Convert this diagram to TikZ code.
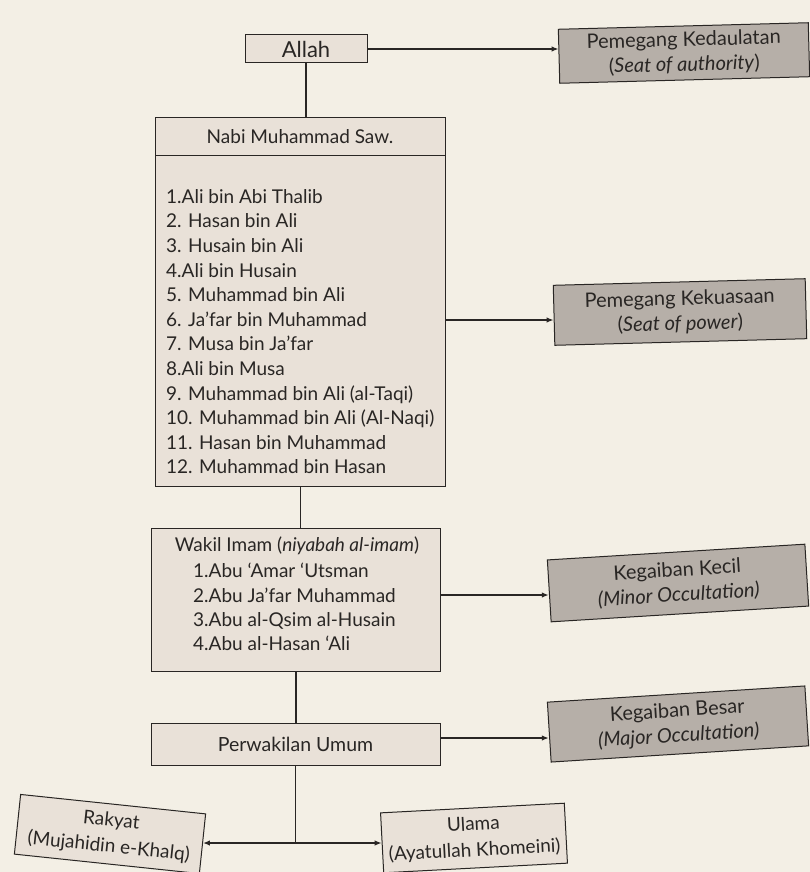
\documentclass[tikz,border=0pt]{standalone}
\usepackage{fontspec}
\setmainfont{Lato}
\usetikzlibrary{arrows.meta}
\definecolor{pagebg}{HTML}{F3EFE5}
\definecolor{lightfill}{HTML}{E9E1D8}
\definecolor{grayfill}{HTML}{B6AFA8}
\definecolor{ink}{HTML}{292624}
\begin{document}
\begin{tikzpicture}[x=1pt,y=-1pt,
  lbox/.style={draw=ink, line width=1pt, fill=lightfill, rectangle, inner sep=0pt, text=ink},
  gbox/.style={draw=ink, line width=1pt, fill=grayfill, rectangle, inner sep=0pt, align=center, text=ink, font=\fontsize{20}{25}\selectfont},
  link/.style={draw=ink, line width=1.3pt},
  arr/.style={link, -{Latex[length=7pt,width=5.5pt]}},
  txt/.style={inner sep=0pt, font=\fontsize{19}{24}\selectfont, text=ink}
]
\fill[pagebg] (0,0) rectangle (810,872);
\useasboundingbox (0,0) rectangle (810,872);

% top level
\node[lbox, minimum width=122pt, minimum height=28pt, font=\fontsize{22}{24}\selectfont] (allah) at (306,49) {Allah};
\node[gbox, minimum width=250pt, minimum height=54pt, rotate=1.5] (kedaulatan) at (684,53) {Pemegang Kedaulatan\\(\textit{Seat of authority})};
\draw[arr] (allah.east) -- (kedaulatan.west |- allah.east);

% Nabi box
\node[lbox, minimum width=290pt, minimum height=369pt, anchor=north west] (nabi) at (155,117) {};
\draw[ink, line width=1pt] (nabi.north west |- 0,155) -- (nabi.north east |- 0,155);
\node[txt] (nabititle) at (300,137) {Nabi Muhammad Saw.};
\foreach \t [count=\i] in {1.Ali bin Abi Thalib, 2. Hasan bin Ali, 3. Husain bin Ali, 4.Ali bin Husain, 5. Muhammad bin Ali, 6. Ja’far bin Muhammad, 7. Musa bin Ja’far, 8.Ali bin Musa, 9. Muhammad bin Ali (al-Taqi), 10. Muhammad bin Ali (Al-Naqi), 11. Hasan bin Muhammad, 12. Muhammad bin Hasan}
  \node[txt, anchor=base west] (imam\i) at (166,178.6+24.6*\i) {\t};
\draw[link] (allah.south) -- (allah.south |- nabi.north);

\node[gbox, minimum width=252pt, minimum height=60pt, rotate=1.5] (kekuasaan) at (680,312) {Pemegang Kekuasaan\\(\textit{Seat of power})};
\coordinate (kkin) at (kekuasaan.west |- 0,320);
\draw[arr] (nabi.east |- kkin) -- (kkin);

% Wakil box
\node[lbox, minimum width=289pt, minimum height=143pt, anchor=north west] (wakil) at (151,528) {};
\node[txt] (wakiltitle) at (297,546) {Wakil Imam (\textit{niyabah al-imam})};
\foreach \t [count=\i] in {1.Abu ‘Amar ‘Utsman, 2.Abu Ja’far Muhammad, 3.Abu al-Qsim al-Husain, 4.Abu al-Hasan ‘Ali}
  \node[txt, anchor=base west] (wakil\i) at (193,553.5+24.3*\i) {\t};
\draw[link] (nabi.south) -- (nabi.south |- wakil.north);

\node[gbox, minimum width=258pt, minimum height=62pt, rotate=3.5] (kecil) at (678,583) {Kegaiban Kecil\\\textit{(Minor Occultation)}};
\coordinate (kcin) at (kecil.west |- 0,595);
\draw[arr] (wakil.east |- kcin) -- (kcin);

% Perwakilan
\node[lbox, minimum width=289pt, minimum height=42pt, font=\fontsize{19.5}{22}\selectfont] (perwakilan) at (295.5,744) {Perwakilan Umum};
\draw[link] (wakil.south) -- (wakil.south |- perwakilan.north);
\node[gbox, minimum width=258pt, minimum height=60pt, rotate=3.6] (besar) at (678,724) {Kegaiban Besar\\\textit{(Major Occultation)}};
\coordinate (bsin) at (besar.west |- 0,738);
\draw[arr] (perwakilan.east |- bsin) -- (bsin);

% bottom
\node[lbox, minimum width=186pt, minimum height=60pt, rotate=-6, align=center, font=\fontsize{19}{26}\selectfont] (rakyat) at (110,834) {Rakyat\\(Mujahidin e-Khalq)};
\node[lbox, minimum width=184pt, minimum height=60pt, rotate=3, align=center, font=\fontsize{19}{26}\selectfont] (ulama) at (474,838) {Ulama\\(Ayatullah Khomeini)};
\coordinate (junc) at (perwakilan.south |- 0,843);
\draw[link] (perwakilan.south) -- (junc);
\draw[arr] (junc) -- (rakyat.east |- junc);
\draw[arr] (junc) -- (ulama.west |- junc);
\end{tikzpicture}
\end{document}
